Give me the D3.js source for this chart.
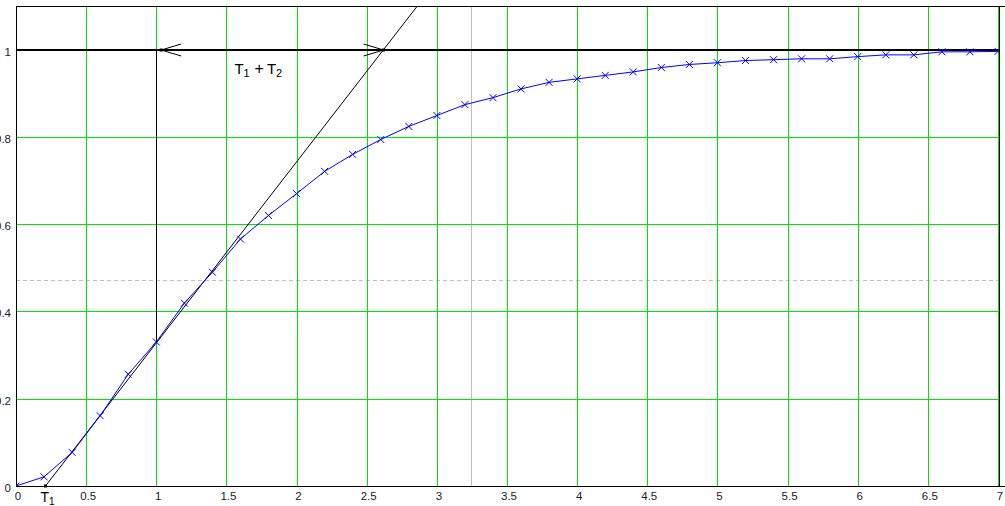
<!DOCTYPE html>
<html>
<head>
<meta charset="utf-8">
<script src="https://cdn.jsdelivr.net/npm/d3@7"></script>
<style>
  html, body { margin: 0; padding: 0; background: #fff; }
  svg { display: block; }
  text { font-family: "Liberation Sans", Arial, sans-serif; }
</style>
</head>
<body>
<svg id="chart" width="1005" height="506"></svg>
<script>
// ---- data ----
const timeValues = [0, 0.2, 0.4, 0.6, 0.8, 1.0, 1.2, 1.4, 1.6, 1.8, 2.0, 2.2, 2.4, 2.6, 2.8, 3.0,
  3.2, 3.4, 3.6, 3.8, 4.0, 4.2, 4.4, 4.6, 4.8, 5.0, 5.2, 5.4, 5.6, 5.8, 6.0, 6.2, 6.4, 6.6, 6.8, 7.0];
const responseValues = [0, 0.021, 0.077, 0.161, 0.256, 0.330, 0.419, 0.490, 0.566, 0.620, 0.670,
  0.721, 0.760, 0.794, 0.824, 0.849, 0.874, 0.890, 0.910, 0.925, 0.933, 0.941, 0.949, 0.959,
  0.966, 0.970, 0.975, 0.977, 0.979, 0.979, 0.984, 0.988, 0.988, 0.995, 0.995, 0.996];
const xTicks = [0, 0.5, 1, 1.5, 2, 2.5, 3, 3.5, 4, 4.5, 5, 5.5, 6, 6.5, 7];
const xTickLabels = ["0", "0.5", "1", "1.5", "2", "2.5", "3", "3.5", "4", "4.5", "5", "5.5", "6", "6.5", "7"];
const yTicks = [0, 0.2, 0.4, 0.6, 0.8, 1];
const yTickLabels = ["0", "0.2", "0.4", "0.6", "0.8", "1"];
const T1 = 0.21;            // tangent start on the time axis
const T1plusT2 = 2.62;      // tangent crosses the steady-state level
const inflectionT = 1.0;    // vertical marker through the inflection point
const inflectionY = 0.330;
const steadyState = 1;
const markerTrace = 3.24;   // grey trace cursor (x)
const markerLevel = 0.472;  // grey trace cursor (y)
const arrowLeftT = 1.035;

// ---- layout ----
const L = 16, R = 998, T = 6, B = 486;
const svg = d3.select("#chart");
const x = d3.scaleLinear().domain([0, 7]).range([L, R]);
const y = d3.scaleLinear().domain([0, 1.1]).range([B, T]);
const px = v => Math.round(x(v)) + 0.5;
const py = v => Math.round(y(v)) + 0.5;

svg.append("rect").attr("width", 1005).attr("height", 506).attr("fill", "#fff");

svg.append("defs").append("clipPath").attr("id", "clip")
  .append("rect").attr("x", L).attr("y", T).attr("width", R - L + 1).attr("height", B - T);

// grey trace cursors (under grid)
svg.append("line").attr("x1", px(markerTrace)).attr("x2", px(markerTrace))
  .attr("y1", T).attr("y2", B).attr("stroke", "#c0c0c0").attr("stroke-width", 1);
svg.append("line").attr("x1", L).attr("x2", R).attr("y1", py(markerLevel)).attr("y2", py(markerLevel))
  .attr("stroke", "#c0c0c0").attr("stroke-width", 1).attr("stroke-dasharray", "4,3");

// green grid
const grid = svg.append("g").attr("stroke", "#00e600").attr("stroke-width", 1);
grid.selectAll("line.v").data(xTicks.filter(d => d > 0)).enter().append("line").attr("class", "v")
  .attr("x1", d => px(d)).attr("x2", d => px(d)).attr("y1", T).attr("y2", B);
grid.selectAll("line.h").data(yTicks.filter(d => d > 0 && d < 1)).enter().append("line").attr("class", "h")
  .attr("x1", L).attr("x2", R + 1).attr("y1", d => py(d)).attr("y2", d => py(d));

// frame
const frame = svg.append("g").attr("stroke", "#000").attr("stroke-width", 1).attr("fill", "none");
frame.append("line").attr("x1", L + 0.5).attr("x2", L + 0.5).attr("y1", T).attr("y2", B + 1);
frame.append("line").attr("x1", L).attr("x2", 1005).attr("y1", B + 0.5).attr("y2", B + 0.5);
frame.append("line").attr("x1", L).attr("x2", 1005).attr("y1", T + 0.5).attr("y2", T + 0.5);
frame.append("line").attr("x1", R + 1.5).attr("x2", R + 1.5).attr("y1", T).attr("y2", B + 1);

// steady-state line (thick)
svg.append("line").attr("x1", L).attr("x2", R + 1).attr("y1", Math.round(y(steadyState)))
  .attr("y2", Math.round(y(steadyState))).attr("stroke", "#000").attr("stroke-width", 2);

// vertical at inflection
svg.append("line").attr("x1", px(inflectionT)).attr("x2", px(inflectionT))
  .attr("y1", y(steadyState)).attr("y2", y(inflectionY)).attr("stroke", "#000").attr("stroke-width", 1);

// tangent
const slope = 1 / (T1plusT2 - T1);
const tEnd = T1 + 1.1 / slope;
svg.append("g").attr("clip-path", "url(#clip)").append("line")
  .attr("x1", x(T1)).attr("y1", y(0)).attr("x2", x(tEnd)).attr("y2", y(1.1))
  .attr("stroke", "#000").attr("stroke-width", 1);

// arrows
function arrow(t, dir) {
  const tx = x(t), ty = Math.round(y(steadyState));
  const g = svg.append("g").attr("stroke", "#000").attr("stroke-width", 1);
  g.append("line").attr("x1", tx).attr("y1", ty).attr("x2", tx + dir * 20).attr("y2", ty - 6);
  g.append("line").attr("x1", tx).attr("y1", ty).attr("x2", tx + dir * 20).attr("y2", ty + 6);
  svg.append("rect").attr("x", tx - 1.5).attr("y", ty - 1.5).attr("width", 3).attr("height", 3).attr("fill", "#000");
}
arrow(arrowLeftT, 1);
arrow(T1plusT2, -1);

// blue response
const pts = timeValues.map((t, i) => [t, responseValues[i]]);
const plot = svg.append("g").attr("clip-path", "url(#clip)");
plot.append("path").datum(pts)
  .attr("d", d3.line().x(d => x(d[0])).y(d => y(d[1])))
  .attr("fill", "none").attr("stroke", "#0000ff").attr("stroke-width", 1);
const m = 3.5;
plot.selectAll("path.mk").data(pts).enter().append("path").attr("class", "mk")
  .attr("d", d => {
    const cx = x(d[0]), cy = y(d[1]);
    return `M${cx - m},${cy - m}L${cx + m},${cy + m}M${cx - m},${cy + m}L${cx + m},${cy - m}`;
  })
  .attr("stroke", "#0000ff").attr("stroke-width", 1).attr("fill", "none");

// T1 marker on axis
svg.append("rect").attr("x", x(T1) - 1.5).attr("y", B - 1.5).attr("width", 3).attr("height", 3).attr("fill", "#000");

// tick labels
svg.selectAll("text.xl").data(xTicks).enter().append("text").attr("class", "xl")
  .attr("x", d => x(d) + 2).attr("y", 500).attr("text-anchor", "middle")
  .attr("font-size", 11.5).attr("fill", "#1a1a2e").text((d, i) => xTickLabels[i]);
svg.selectAll("text.yl").data(yTicks).enter().append("text").attr("class", "yl")
  .attr("x", 11).attr("y", d => y(d) + 6).attr("text-anchor", "end")
  .attr("font-size", 11.5).attr("fill", "#1a1a2e").text((d, i) => yTickLabels[i]);

// T1 label
const t1 = svg.append("text").attr("x", x(T1) - 5).attr("y", 502).attr("font-size", 14).attr("fill", "#000");
t1.append("tspan").text("T");
t1.append("tspan").attr("font-size", 10).attr("dy", 3).text("1");

// T1 + T2 label
const labG = svg.append("g").attr("fill", "#000");
labG.append("text").attr("x", 234.5).attr("y", 74).attr("font-size", 15).text("T");
labG.append("text").attr("x", 243.5).attr("y", 77).attr("font-size", 11).text("1");
labG.append("text").attr("x", 254.5).attr("y", 74).attr("font-size", 16).text("+");
labG.append("text").attr("x", 267).attr("y", 74).attr("font-size", 15).text("T");
labG.append("text").attr("x", 276).attr("y", 77).attr("font-size", 11).text("2");
</script>
</body>
</html>
